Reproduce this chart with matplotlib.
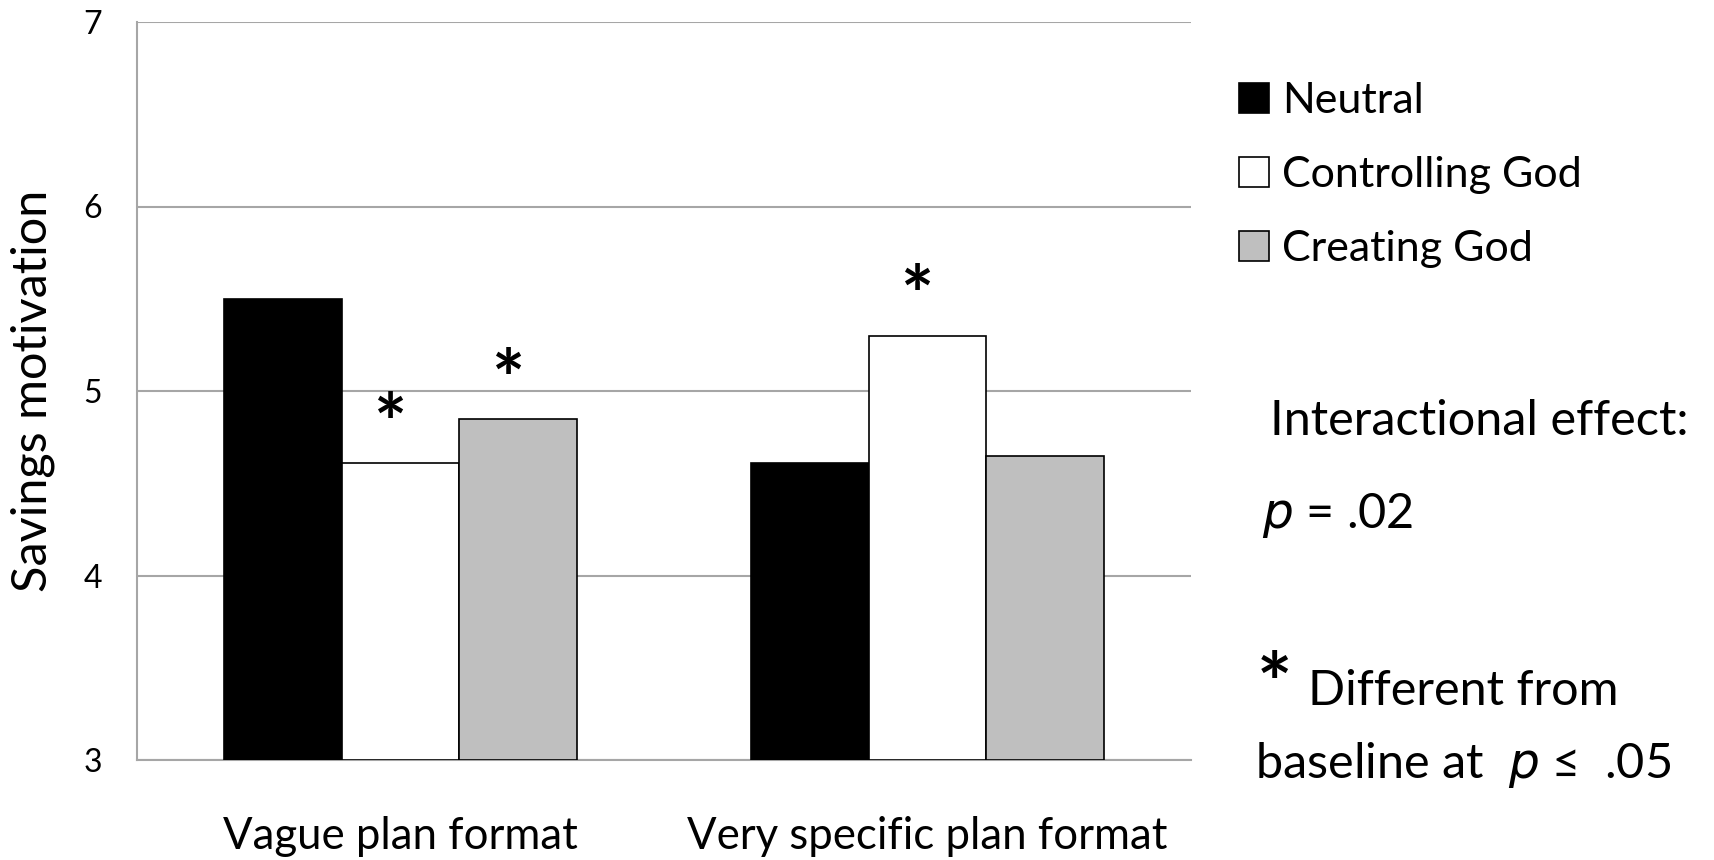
import matplotlib
matplotlib.use("Agg")
import matplotlib.pyplot as plt
import numpy as np

# Data
categories = ["Vague plan format", "Very specific plan format"]
series = ["Neutral", "Controlling God", "Creating God"]
values = {
    "Neutral": [5.50, 4.61],
    "Controlling God": [4.61, 5.30],
    "Creating God": [4.85, 4.65],
}
# significance marks (different from baseline)
significant = {
    "Neutral": [False, False],
    "Controlling God": [True, True],
    "Creating God": [True, False],
}
y_ticks = [3, 4, 5, 6, 7]

colors = {"Neutral": "#000000", "Controlling God": "#ffffff", "Creating God": "#bfbfbf"}

plt.rcParams['font.family'] = ['Lato', 'DejaVu Sans']

W, H = 1714, 860
fig = plt.figure(figsize=(W / 100, H / 100), dpi=100)
ax = fig.add_axes([137 / W, 1 - 760 / H, (1191 - 137) / W, (760 - 22) / H])

x = np.arange(len(categories))
bw = 0.223
bars = []
for i, s in enumerate(series):
    pos = x + (i - 1) * bw
    b = ax.bar(pos, np.array(values[s]) - 3, bottom=3, width=bw,
               color=colors[s], edgecolor="black", linewidth=1.2, zorder=3, label=s)
    bars.append(b)
    for p, v, sig in zip(pos, values[s], significant[s]):
        if sig:
            ax.text(p - 0.02, v - 0.01, "*", ha="center", va="bottom",
                    fontsize=56, fontweight="bold", zorder=4)

ax.set_ylim(3, 7)
ax.set_xlim(-0.5, 1.5)
ax.set_yticks(y_ticks)
ax.set_yticklabels([str(t) for t in y_ticks], fontsize=23)
ax.set_xticks(x)
ax.set_xticklabels(categories, fontsize=31.5)
ax.tick_params(axis="y", length=0, pad=25)
ax.tick_params(axis="x", length=0, pad=40)
ax.yaxis.grid(True, color="#a6a6a6", linewidth=1.5, zorder=0)
ax.set_axisbelow(True)
for side in ["top", "right"]:
    ax.spines[side].set_visible(False)
for side in ["left", "bottom"]:
    ax.spines[side].set_color("#a6a6a6")
    ax.spines[side].set_linewidth(1.5)

fig.text(33 / W, 1 - 391 / H, "Savings motivation", rotation=90,
         ha="center", va="center", fontsize=35)

fig.legend(handles=bars, labels=series, loc="upper left",
           bbox_to_anchor=(1200 / W, 1 - 43 / H), frameon=False,
           fontsize=31, handlelength=0.7, handleheight=0.7,
           handletextpad=0.3, labelspacing=0.84)

fig.text(1270 / W, 1 - 421 / H, "Interactional effect:", ha="left", va="center", fontsize=35)
fig.text(1262 / W, 1 - 516 / H, "$p$ = .02", ha="left", va="center", fontsize=35)
fig.text(1257 / W, 1 - 689 / H, "*", ha="left", va="center", fontsize=60, fontweight="bold")
fig.text(1308 / W, 1 - 691 / H, "Different from", ha="left", va="center", fontsize=35)
fig.text(1255 / W, 1 - 765 / H, "baseline at  $p$ \u2264  .05", ha="left", va="center", fontsize=35)

fig.savefig("out.png", dpi=100)
